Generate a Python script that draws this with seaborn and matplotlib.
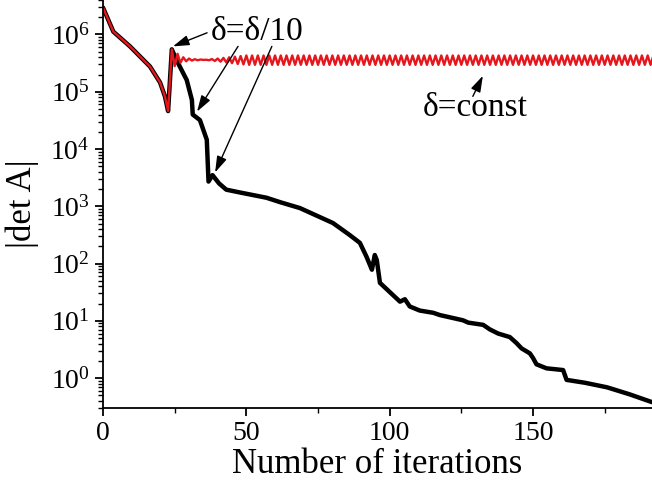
import numpy as np
import pandas as pd
import matplotlib
matplotlib.use("Agg")
import matplotlib.pyplot as plt
import seaborn as sns
from matplotlib.ticker import FixedLocator, MultipleLocator, NullFormatter

# ---- data ----
shared_iter = [0, 3.6, 9.4, 16.4, 19.9, 21.6, 22.7, 24.0]
shared_val = [2.95e6, 1.12e6, 6.2e5, 2.75e5, 1.45e5, 8.3e4, 4.6e4, 5.5e5]

black_iter = [25.6, 29.2, 31.0, 31.3, 33.8, 36.2, 36.8, 38.2, 40.5, 43.0, 47.8,
              57.0, 62.0, 68.7, 80.2, 86.0, 89.6, 91.9, 93.8, 94.8, 95.5, 96.6,
              103.6, 105.3, 107.0, 110.5, 115.2, 117.5, 125.6, 127.4, 132.6,
              134.9, 137.8, 141.9, 144.2, 146.0, 148.9, 150.0, 151.2, 154.7,
              160.5, 161.7, 168.0, 175.8, 183.7, 191.5]
black_val = [3.6e5, 1.6e5, 7.2e4, 4.0e4, 3.2e4, 1.45e4, 2.7e3, 3.5e3, 2.5e3, 1.95e3, 1.74e3,
             1.41e3, 1.17e3, 930, 510, 316, 230, 132, 78, 141, 115, 46,
             21.6, 23.8, 17.8, 15.1, 13.8, 12.6, 10.2, 9.3, 8.5,
             7.1, 6.0, 5.2, 4.1, 3.3, 2.7, 2.24, 1.74, 1.48,
             1.38, 0.93, 0.83, 0.69, 0.52, 0.38]

red_start = 25
red_val = [
    2.8e5, 4.6e5, 3.2e5, 4.0e5, 3.4e5, 3.8e5, 3.5e5, 3.7e5, 3.55e5, 3.65e5,
    3.6e5, 3.62e5, 3.55e5, 3.72e5, 3.45e5, 3.8e5, 3.35e5, 3.9e5, 3.25e5, 4.0e5,
    3.15e5, 4.1e5, 3.05e5, 4.2e5, 3.0e5,
    4.3e5, 2.95e5, 4.3e5, 2.95e5, 4.3e5, 2.95e5, 4.3e5, 2.95e5, 4.3e5, 2.95e5,
    4.3e5, 2.95e5, 4.3e5, 2.95e5, 4.3e5, 2.95e5, 4.3e5, 2.95e5, 4.3e5, 2.95e5,
    4.3e5, 2.95e5, 4.3e5, 2.95e5, 4.3e5, 2.95e5, 4.3e5, 2.95e5, 4.3e5, 2.95e5,
    4.3e5, 2.95e5, 4.3e5, 2.95e5, 4.3e5, 2.95e5, 4.3e5, 2.95e5, 4.3e5, 2.95e5,
    4.3e5, 2.95e5, 4.3e5, 2.95e5, 4.3e5, 2.95e5, 4.3e5, 2.95e5, 4.3e5, 2.95e5,
    4.3e5, 2.95e5, 4.3e5, 2.95e5, 4.3e5, 2.95e5, 4.3e5, 2.95e5, 4.3e5, 2.95e5,
    4.3e5, 2.95e5, 4.3e5, 2.95e5, 4.3e5, 2.95e5, 4.3e5, 2.95e5, 4.3e5, 2.95e5,
    4.3e5, 2.95e5, 4.3e5, 2.95e5, 4.3e5, 2.95e5, 4.3e5, 2.95e5, 4.3e5, 2.95e5,
    4.3e5, 2.95e5, 4.3e5, 2.95e5, 4.3e5, 2.95e5, 4.3e5, 2.95e5, 4.3e5, 2.95e5,
    4.3e5, 2.95e5, 4.3e5, 2.95e5, 4.3e5, 2.95e5, 4.3e5, 2.95e5, 4.3e5, 2.95e5,
    4.3e5, 2.95e5, 4.3e5, 2.95e5, 4.3e5, 2.95e5, 4.3e5, 2.95e5, 4.3e5, 2.95e5,
    4.3e5, 2.95e5, 4.3e5, 2.95e5, 4.3e5, 2.95e5, 4.3e5, 2.95e5, 4.3e5, 2.95e5,
    4.3e5, 2.95e5, 4.3e5, 2.95e5, 4.3e5, 2.95e5, 4.3e5, 2.95e5, 4.3e5, 2.95e5,
    4.3e5, 2.95e5, 4.3e5, 2.95e5, 4.3e5, 2.95e5, 4.3e5, 2.95e5, 4.3e5, 2.95e5,
    4.3e5, 2.95e5, 4.3e5,
]

x_ticks = [0, 50, 100, 150]
y_ticks = [1e0, 1e1, 1e2, 1e3, 1e4, 1e5, 1e6]
y_ticklabels = ["$10^{0}$", "$10^{1}$", "$10^{2}$", "$10^{3}$", "$10^{4}$", "$10^{5}$", "$10^{6}$"]
x_label = "Number of iterations"
y_label = "|det A|"
label_step = "δ=δ/10"
label_const = "δ=const"

# ---- build tables ----
black_df = pd.DataFrame({"iter": shared_iter + black_iter, "val": shared_val + black_val})
red_iter = shared_iter + [red_start + i for i in range(len(red_val))]
red_df = pd.DataFrame({"iter": red_iter, "val": shared_val + red_val})

sns.set_theme(style="ticks")
plt.rcParams["font.family"] = ["Liberation Serif", "DejaVu Serif"]
plt.rcParams["mathtext.fontset"] = "custom"
plt.rcParams["mathtext.rm"] = "Liberation Serif"
plt.rcParams["mathtext.it"] = "Liberation Serif:italic"
plt.rcParams["mathtext.default"] = "rm"
plt.rcParams["axes.linewidth"] = 1.3
plt.rcParams["axes.edgecolor"] = "black"

fig = plt.figure(figsize=(6.52, 4.91), dpi=100)
ax = fig.add_axes([0.158, 0.169, 0.842, 0.831])

sns.lineplot(data=black_df, x="iter", y="val", sort=False, estimator=None,
             color="black", linewidth=3.2, ax=ax)
sns.lineplot(data=red_df, x="iter", y="val", sort=False, estimator=None,
             color="#e5161c", linewidth=1.7, ax=ax)

ax.set_yscale("log")
ax.set_xlim(0, 191.5)
ax.set_ylim(0.3, 4e6)

ax.set_xticks(x_ticks)
ax.xaxis.set_minor_locator(MultipleLocator(25))
ax.set_yticks(y_ticks)
ax.set_yticklabels(y_ticklabels)
minor_y = [m * 10.0 ** e for e in range(-1, 7) for m in range(2, 10)
           if 0.3 <= m * 10.0 ** e <= 4e6]
ax.yaxis.set_minor_locator(FixedLocator(minor_y))
ax.yaxis.set_minor_formatter(NullFormatter())

ax.tick_params(which="major", direction="out", length=6, width=1.3,
               labelsize=20, colors="black")
ax.tick_params(which="minor", direction="out", length=3.5, width=1.0, colors="black")

sns.despine(ax=ax, top=True, right=True)

ax.set_xlabel(x_label, fontsize=25, color="black", labelpad=1)
ax.set_ylabel(y_label, fontsize=25, color="black", labelpad=8)

arrow = dict(arrowstyle="-|>,head_length=0.7,head_width=0.22", color="black",
             lw=1.0, shrinkA=0, shrinkB=0, mutation_scale=14)

ax.text(53.7, 1.12e6, label_step, fontsize=24, ha="center", va="center", color="black")
ax.annotate("", xy=(24.4, 6.2e5), xytext=(36.3, 1.07e6), arrowprops=arrow)
ax.annotate("", xy=(32.8, 4.5e4), xytext=(47.1, 6.2e5), arrowprops=arrow)
ax.annotate("", xy=(39.1, 3.9e3), xytext=(58.9, 6.2e5), arrowprops=arrow)

ax.text(129.7, 5.2e4, label_const, fontsize=24, ha="center", va="center", color="black")
ax.annotate("", xy=(132.5, 1.9e5), xytext=(129.0, 8.3e4), arrowprops=arrow)

fig.savefig("out.png", dpi=100)
